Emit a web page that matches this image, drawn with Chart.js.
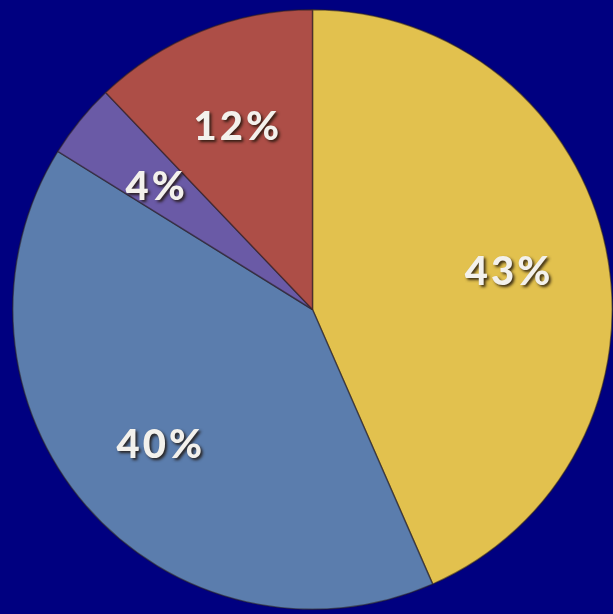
<!DOCTYPE html>
<html lang="en">
<head>
    <meta charset="UTF-8">
    <title>Pie</title>
    <script src="https://cdn.jsdelivr.net/npm/chart.js"></script>
    <style>
        html, body { margin: 0; padding: 0; background: #000080; }
        #wrap { width: 613px; height: 614px; }
    </style>
</head>
<body>
<div id="wrap"><canvas id="myChart"></canvas></div>
<script>
// slices, clockwise from 12 o'clock
const categorias = ['A', 'B', 'C', 'D'];
const valores = [43, 40, 4, 12];
const rotulos = ['43%', '40%', '4%', '12%'];
const cores = ['#E2C14E', '#5B7DAD', '#6A5AA6', '#AD4E47'];

// writes the percent labels on each slice
const rotulosPlugin = {
    id: 'rotulos',
    afterDatasetsDraw(chart) {
        const ctx = chart.ctx;
        const arcs = chart.getDatasetMeta(0).data;
        ctx.save();
        ctx.font = '900 40px Lato, "Open Sans", sans-serif';
        ctx.textAlign = 'center';
        ctx.textBaseline = 'middle';
        ctx.fillStyle = '#F3F1EC';
        ctx.shadowColor = 'rgba(30,20,10,0.85)';
        ctx.shadowOffsetX = 2;
        ctx.shadowOffsetY = 2;
        ctx.shadowBlur = 3;
        if ('letterSpacing' in ctx) ctx.letterSpacing = '3px';
        arcs.forEach(function (arc, i) {
            const p = arc.getProps(['x', 'y', 'startAngle', 'endAngle', 'outerRadius'], true);
            const meio = (p.startAngle + p.endAngle) / 2;
            const r = p.outerRadius * 0.67;
            ctx.fillText(rotulos[i], p.x + Math.cos(meio) * r, p.y + Math.sin(meio) * r + 4);
        });
        ctx.restore();
    }
};

const config = {
    type: 'pie',
    data: {
        labels: categorias,
        datasets: [{
            data: valores,
            backgroundColor: cores,
            borderColor: 'rgba(40,30,30,0.55)',
            borderWidth: 1.5
        }]
    },
    options: {
        responsive: true,
        maintainAspectRatio: false,
        animation: false,
        layout: { padding: { left: 12, right: 0, top: 9, bottom: 4 } },
        plugins: {
            legend: { display: false },
            tooltip: { enabled: false }
        }
    },
    plugins: [rotulosPlugin]
};

new Chart(document.getElementById('myChart'), config);
</script>
</body>
</html>
